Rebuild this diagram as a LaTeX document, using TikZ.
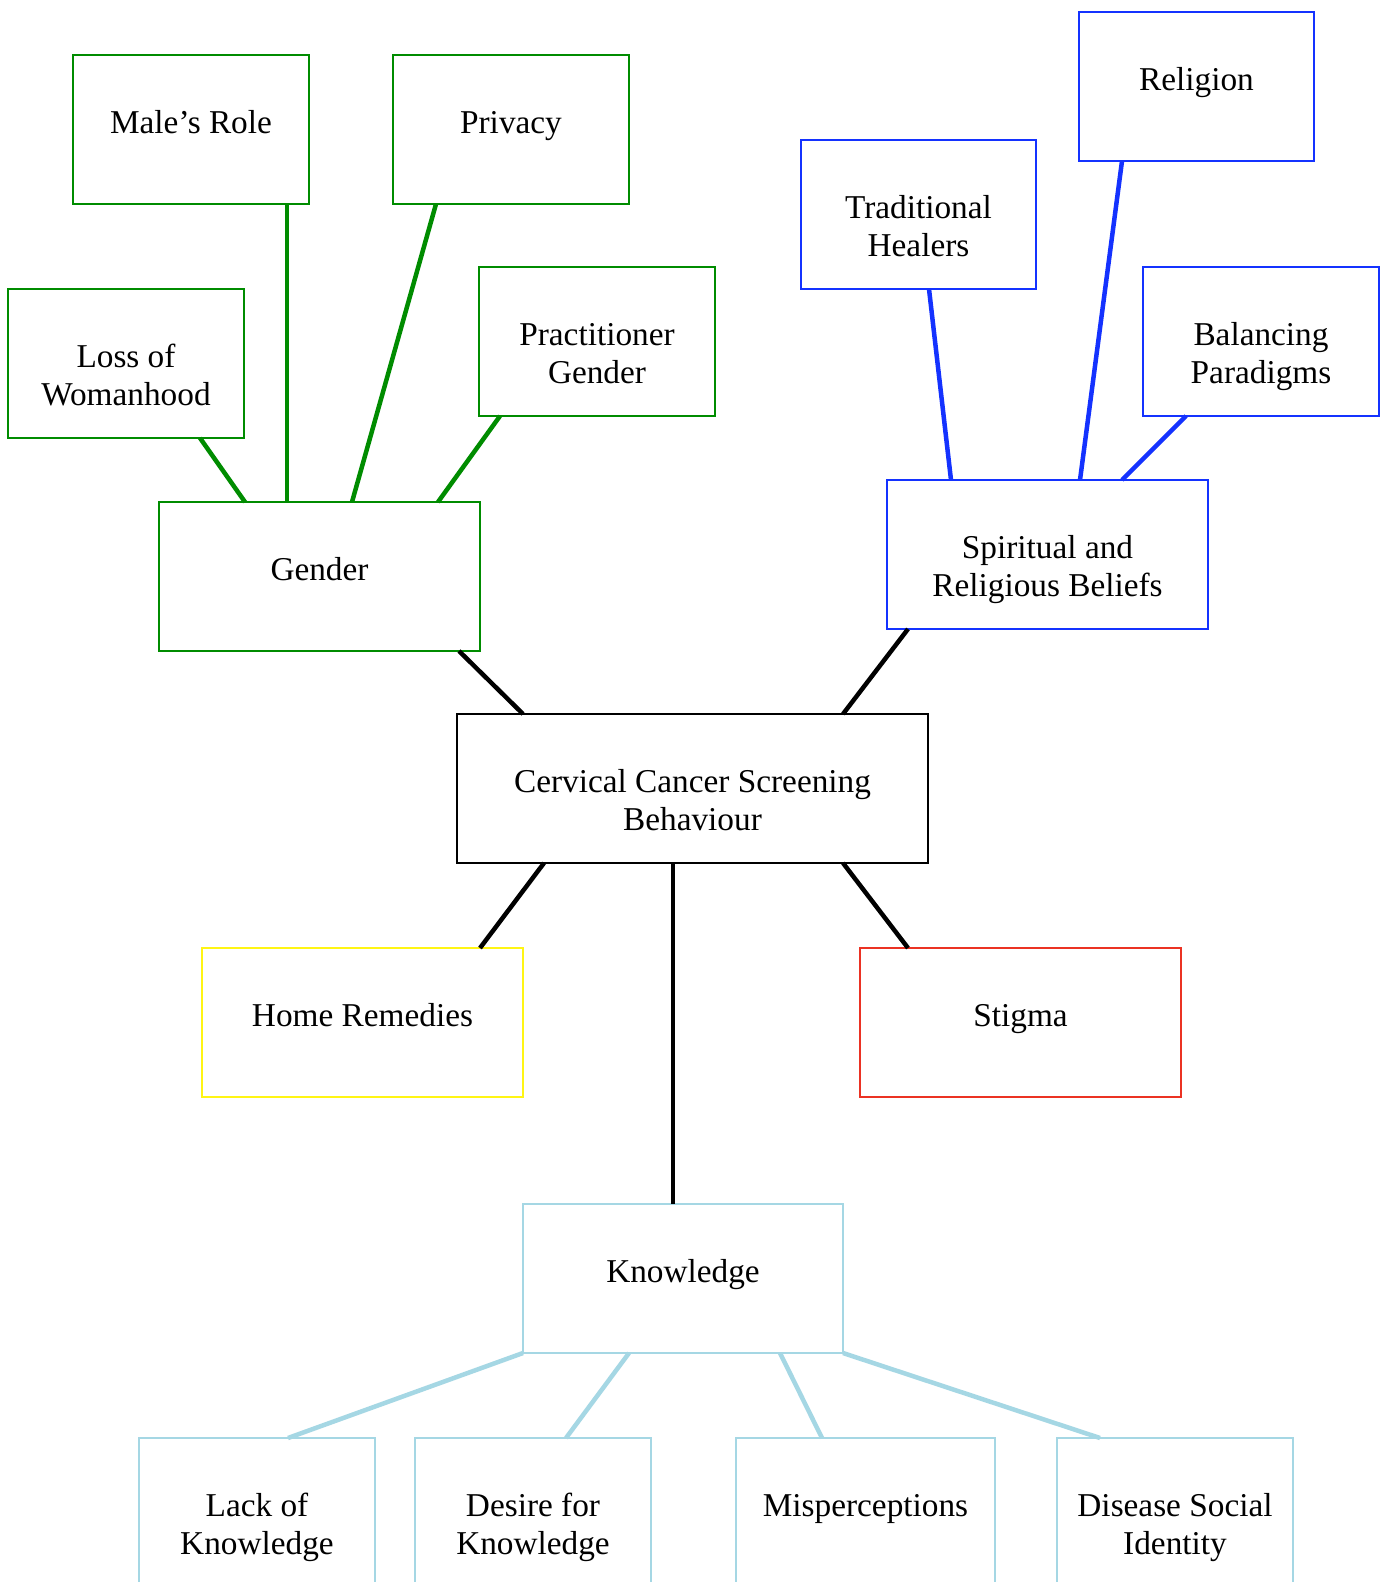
\documentclass[tikz,border=0pt]{standalone}
\usepackage{fontspec}
\setmainfont{Liberation Serif}
\usetikzlibrary{calc}
\definecolor{cgreen}{RGB}{0,140,0}
\definecolor{cblue}{RGB}{20,50,255}
\definecolor{clight}{RGB}{165,215,228}
\definecolor{cyellow}{RGB}{255,245,20}
\definecolor{cred}{RGB}{235,50,35}
\newcommand{\mytwol}[2]{\begin{tabular}[t]{@{}c@{}}#1\\#2\end{tabular}}
\tikzset{
  mybox/.style={draw, line width=2pt, inner sep=0pt, outer sep=0pt, anchor=north west, minimum height=149pt},
  boxg/.style={mybox, draw=cgreen},
  boxb/.style={mybox, draw=cblue},
  boxk/.style={mybox, draw=black},
  boxy/.style={mybox, draw=cyellow},
  boxr/.style={mybox, draw=cred},
  boxc/.style={mybox, draw=clight, minimum height=170pt},
  lbl/.style={anchor=base, inner sep=0pt, font=\fontsize{33.3}{38.3}\selectfont},
  lng/.style={draw=cgreen, line width=4.5pt},
  lnb/.style={draw=cblue, line width=4.5pt},
  lnk/.style={draw=black, line width=4.5pt},
  lnc/.style={draw=clight, line width=4.5pt},
}
\begin{document}
\begin{tikzpicture}[x=1pt,y=-1pt]
\useasboundingbox (0,0) rectangle (1386,1582);
\fill[white] (0,0) rectangle (1386,1582);
% boxes
\node[boxg, minimum width=236pt] (male) at (73,55) {};
\node[boxg, minimum width=236pt] (privacy) at (393,55) {};
\node[boxg, minimum width=236pt] (loss) at (8,289) {};
\node[boxg, minimum width=236pt] (pract) at (479,267) {};
\node[boxg, minimum width=321pt] (gender) at (159,502) {};
\node[boxb, minimum width=235pt] (trad) at (801,140) {};
\node[boxb, minimum width=235pt] (religion) at (1079,12) {};
\node[boxb, minimum width=236pt] (balancing) at (1143,267) {};
\node[boxb, minimum width=321pt] (spiritual) at (887,480) {};
\node[boxk, minimum width=471pt] (center) at (457,714) {};
\node[boxy, minimum width=321pt] (home) at (202,948) {};
\node[boxr, minimum width=321pt] (stigma) at (860,948) {};
\node[mybox, draw=clight, minimum width=320pt] (knowledge) at (523,1204) {};
\node[boxc, minimum width=236pt] (lack) at (139,1438) {};
\node[boxc, minimum width=236pt] (desire) at (415,1438) {};
\node[boxc, minimum width=259pt] (misp) at (736,1438) {};
\node[boxc, minimum width=236pt] (disease) at (1057,1438) {};
% labels
\node[lbl] (tmale) at ([yshift=-78.5pt]male.north) {Male’s Role};
\node[lbl] (tprivacy) at ([yshift=-78.5pt]privacy.north) {Privacy};
\node[lbl] (tloss) at ([yshift=-78.5pt]loss.north) {\mytwol{Loss of}{Womanhood}};
\node[lbl] (tpract) at ([yshift=-78.5pt]pract.north) {\mytwol{Practitioner}{Gender}};
\node[lbl] (tgender) at ([yshift=-78.5pt]gender.north) {Gender};
\node[lbl] (ttrad) at ([yshift=-78.5pt]trad.north) {\mytwol{Traditional}{Healers}};
\node[lbl] (treligion) at ([yshift=-78.5pt]religion.north) {Religion};
\node[lbl] (tbalancing) at ([yshift=-78.5pt]balancing.north) {\mytwol{Balancing}{Paradigms}};
\node[lbl] (tspiritual) at ([yshift=-78.5pt]spiritual.north) {\mytwol{Spiritual and}{Religious Beliefs}};
\node[lbl] (tcenter) at ([yshift=-78.5pt]center.north) {\mytwol{Cervical Cancer Screening}{Behaviour}};
\node[lbl] (thome) at ([yshift=-78.5pt]home.north) {Home Remedies};
\node[lbl] (tstigma) at ([yshift=-78.5pt]stigma.north) {Stigma};
\node[lbl] (tknowledge) at ([yshift=-78.5pt]knowledge.north) {Knowledge};
\node[lbl] (tlack) at ([yshift=-78.5pt]lack.north) {\mytwol{Lack of}{Knowledge}};
\node[lbl] (tdesire) at ([yshift=-78.5pt]desire.north) {\mytwol{Desire for}{Knowledge}};
\node[lbl] (tmisp) at ([yshift=-78.5pt]misp.north) {Misperceptions};
\node[lbl] (tdisease) at ([yshift=-78.5pt]disease.north) {\mytwol{Disease Social}{Identity}};
% connectors - gender group
\draw[lng] ([xshift=192pt]loss.south west) -- ([xshift=86pt]gender.north west);
\draw[lng] ([xshift=214pt]male.south west) -- ([xshift=128pt]gender.north west);
\draw[lng] ([xshift=43pt]privacy.south west) -- ([xshift=193pt]gender.north west);
\draw[lng] ([xshift=21pt]pract.south west) -- ([xshift=279pt]gender.north west);
% spiritual group
\draw[lnb] ([xshift=128pt]trad.south west) -- ([xshift=64pt]spiritual.north west);
\draw[lnb] ([xshift=43pt]religion.south west) -- ([xshift=193pt]spiritual.north west);
\draw[lnb] ([xshift=43pt]balancing.south west) -- ([xshift=235pt]spiritual.north west);
% center
\draw[lnk] ([xshift=300pt]gender.south west) -- ([xshift=66pt]center.north west);
\draw[lnk] ([xshift=21pt]spiritual.south west) -- ([xshift=386pt]center.north west);
\draw[lnk] ([xshift=87pt]center.south west) -- ([xshift=278pt]home.north west);
\draw[lnk] ([xshift=386pt]center.south west) -- ([xshift=48pt]stigma.north west);
\draw[lnk] ([xshift=216pt]center.south west) -- ([xshift=150pt]knowledge.north west);
% knowledge group
\draw[lnc] (knowledge.south west) -- ([xshift=149pt]lack.north west);
\draw[lnc] ([xshift=106pt]knowledge.south west) -- ([xshift=151pt]desire.north west);
\draw[lnc] ([xshift=257pt]knowledge.south west) -- ([xshift=86pt]misp.north west);
\draw[lnc] (knowledge.south east) -- ([xshift=43pt]disease.north west);
\end{tikzpicture}
\end{document}
